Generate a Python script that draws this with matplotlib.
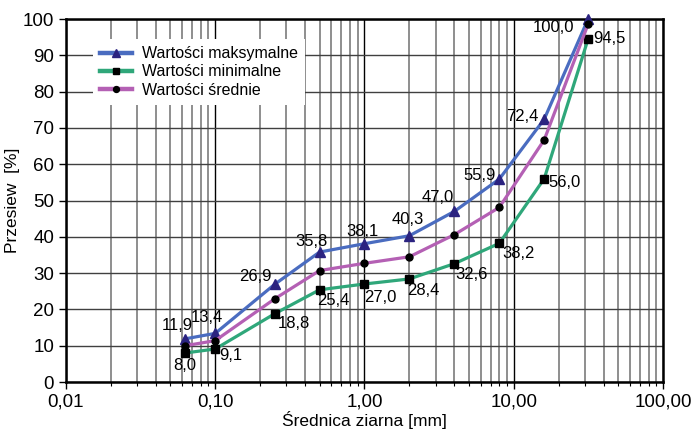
import numpy as np
import matplotlib
matplotlib.use('Agg')
import matplotlib.pyplot as plt
from matplotlib.ticker import FixedLocator, FixedFormatter, LogLocator, NullFormatter

plt.rcParams['font.family'] = ['Liberation Sans', 'DejaVu Sans']

# średnica ziarna [mm]
sieves = [0.063, 0.1, 0.25, 0.5, 1.0, 2.0, 4.0, 8.0, 16.0, 31.5]
# przesiew [%]
max_vals = [11.9, 13.4, 26.9, 35.8, 38.1, 40.3, 47.0, 55.9, 72.4, 100.0]
min_vals = [8.0, 9.1, 18.8, 25.4, 27.0, 28.4, 32.6, 38.2, 56.0, 94.5]
mean_vals = [10.0, 11.4, 22.9, 30.7, 32.7, 34.5, 40.6, 48.1, 66.7, 98.6]

x_ticks = [0.01, 0.1, 1, 10, 100]
x_labels = ['0,01', '0,10', '1,00', '10,00', '100,00']
y_ticks = list(range(0, 101, 10))

# przesunięcia etykiet (piksele)
max_off = [(-8, 13), (-8, 16), (-19, 8), (-8, 11), (-2, 12), (-2, 16),
           (-17, 14), (-20, 4), (-22, 3), (-35, -8)]
min_off = [(-1, -13), (16, -7), (19, -10), (14, -11), (16, -13), (14, -12),
           (17, -11), (19, -10), (20, -4), (21, 0)]

c_max = '#4a6cc0'
c_min = '#2fa77a'
c_mean = '#b460b4'

fig = plt.figure(figsize=(6.99, 4.30), dpi=100)
ax = fig.add_axes([0.0944, 0.1116, 0.8541, 0.8442])

ax.set_xscale('log')
ax.set_xlim(0.01, 100)
ax.set_ylim(0, 100)

# siatka
ax.xaxis.set_major_locator(FixedLocator(x_ticks))
ax.xaxis.set_major_formatter(FixedFormatter(x_labels))
ax.xaxis.set_minor_locator(LogLocator(base=10, subs=np.arange(2, 10)))
ax.xaxis.set_minor_formatter(NullFormatter())
ax.set_yticks(y_ticks)
ax.grid(which='major', axis='x', color='black', linewidth=1.0)
ax.grid(which='minor', axis='x', color='#707070', linewidth=1.1)
ax.grid(which='major', axis='y', color='#404040', linewidth=1.0)
ax.set_axisbelow(True)

ax.plot(sieves, max_vals, color=c_max, linewidth=2.3, marker='^', markersize=7,
        markerfacecolor='#2b2380', markeredgecolor='#2b2380', label='Wartości maksymalne',
        zorder=3, clip_on=False)
ax.plot(sieves, min_vals, color=c_min, linewidth=2.3, marker='s', markersize=5.5,
        markerfacecolor='black', markeredgecolor='black', label='Wartości minimalne',
        zorder=3, clip_on=False)
ax.plot(sieves, mean_vals, color=c_mean, linewidth=2.3, marker='o', markersize=5,
        markerfacecolor='black', markeredgecolor='black', label='Wartości średnie',
        zorder=3, clip_on=False)

for xv, yv, off in zip(sieves, max_vals, max_off):
    ax.annotate(f'{yv:.1f}'.replace('.', ','), (xv, yv), xytext=off,
                textcoords='offset pixels', ha='center', va='center', fontsize=12, zorder=4)
for xv, yv, off in zip(sieves, min_vals, min_off):
    ax.annotate(f'{yv:.1f}'.replace('.', ','), (xv, yv), xytext=off,
                textcoords='offset pixels', ha='center', va='center', fontsize=12, zorder=4)

for s in ax.spines.values():
    s.set_linewidth(1.8)
    s.set_color('black')

ax.tick_params(axis='both', which='major', labelsize=13.5, length=5, width=1.0, direction='out')
ax.tick_params(axis='x', which='minor', length=3, width=0.8)
ax.set_xlabel('Średnica ziarna [mm]', fontsize=12.5, labelpad=0)
ax.set_ylabel('Przesiew  [%]', fontsize=12.5, labelpad=2)

leg = ax.legend(loc='upper left', bbox_to_anchor=(0.045, 0.945), fontsize=11.5,
                frameon=True, fancybox=False, framealpha=1.0, edgecolor='white',
                borderaxespad=0, handlelength=2.0, labelspacing=0.2, borderpad=0.45,
                handletextpad=0.6, markerscale=0.85)
leg.get_frame().set_linewidth(0)
for ln in leg.get_lines():
    ln.set_linewidth(3.2)

fig.savefig('out.png', dpi=100, facecolor='white')
